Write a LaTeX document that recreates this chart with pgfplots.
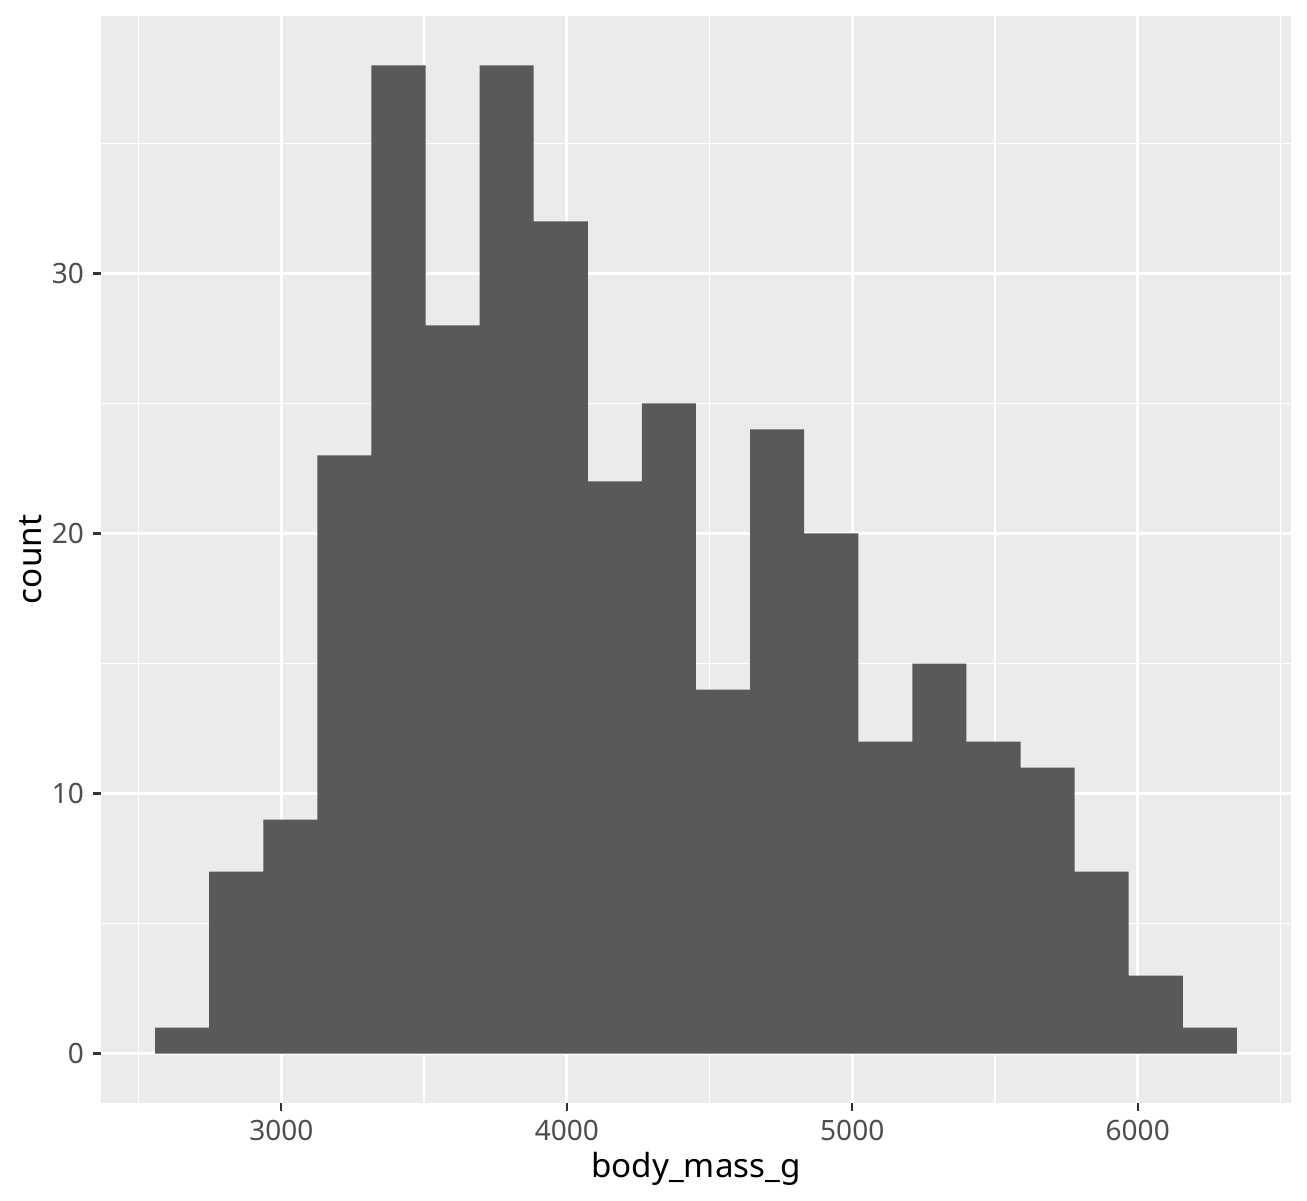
\documentclass[border=0pt]{standalone}
\usepackage{fontspec}
\setmainfont{Noto Sans}
\usepackage{pgfplots}
\pgfplotsset{compat=1.18}
\definecolor{panelbg}{HTML}{EBEBEB}
\definecolor{barfill}{HTML}{595959}
\definecolor{ticklab}{HTML}{4D4D4D}
\definecolor{tickcol}{HTML}{333333}
\begin{document}
\begin{tikzpicture}[x=1pt,y=1pt]
\begin{axis}[
  at={(0,0)}, anchor=south west,
  scale only axis,
  width=595pt, height=543.5pt,
  xmin=2368.4, xmax=6536.9,
  ymin=-1.9, ymax=39.9,
  axis background/.style={fill=panelbg},
  axis line style={draw=none},
  xtick={3000,4000,5000,6000},
  ytick={0,10,20,30},
  minor xtick={2500,3500,4500,5500,6500},
  minor ytick={5,15,25,35},
  grid=both,
  major grid style={white, line width=1.4pt},
  minor grid style={white, line width=0.7pt},
  tick align=outside,
  major tick length=4pt,
  minor tick length=0pt,
  tick style={tickcol, line width=1.1pt},
  xtick pos=bottom, ytick pos=left,
  /pgf/number format/assume math mode=true,
  /pgf/number format/set thousands separator={},
  ticklabel style={font=\fontsize{14}{16}\selectfont, text=ticklab},
  xticklabel style={yshift=-1pt},
  yticklabel style={xshift=-1pt},
  xlabel={body\_mass\_g},
  ylabel={count},
  label style={font=\fontsize{16.6}{19}\selectfont, text=black},
  xlabel style={yshift=1pt},
  ylabel style={yshift=-2pt},
  clip=false,
]
\addplot[ybar interval, fill=barfill, draw=none] coordinates {
(2557.89,1) (2747.37,7) (2936.84,9) (3126.32,23) (3315.79,38)
(3505.26,28) (3694.74,38) (3884.21,32) (4073.68,22) (4263.16,25)
(4452.63,14) (4642.11,24) (4831.58,20) (5021.05,12) (5210.53,15)
(5400.00,12) (5589.47,11) (5778.95,7) (5968.42,3) (6157.89,1)
(6347.37,1)
};
\end{axis}
\pgfresetboundingbox
\path (-50.5pt,-48.5pt) rectangle (603pt,551.5pt);
\end{tikzpicture}
\end{document}
